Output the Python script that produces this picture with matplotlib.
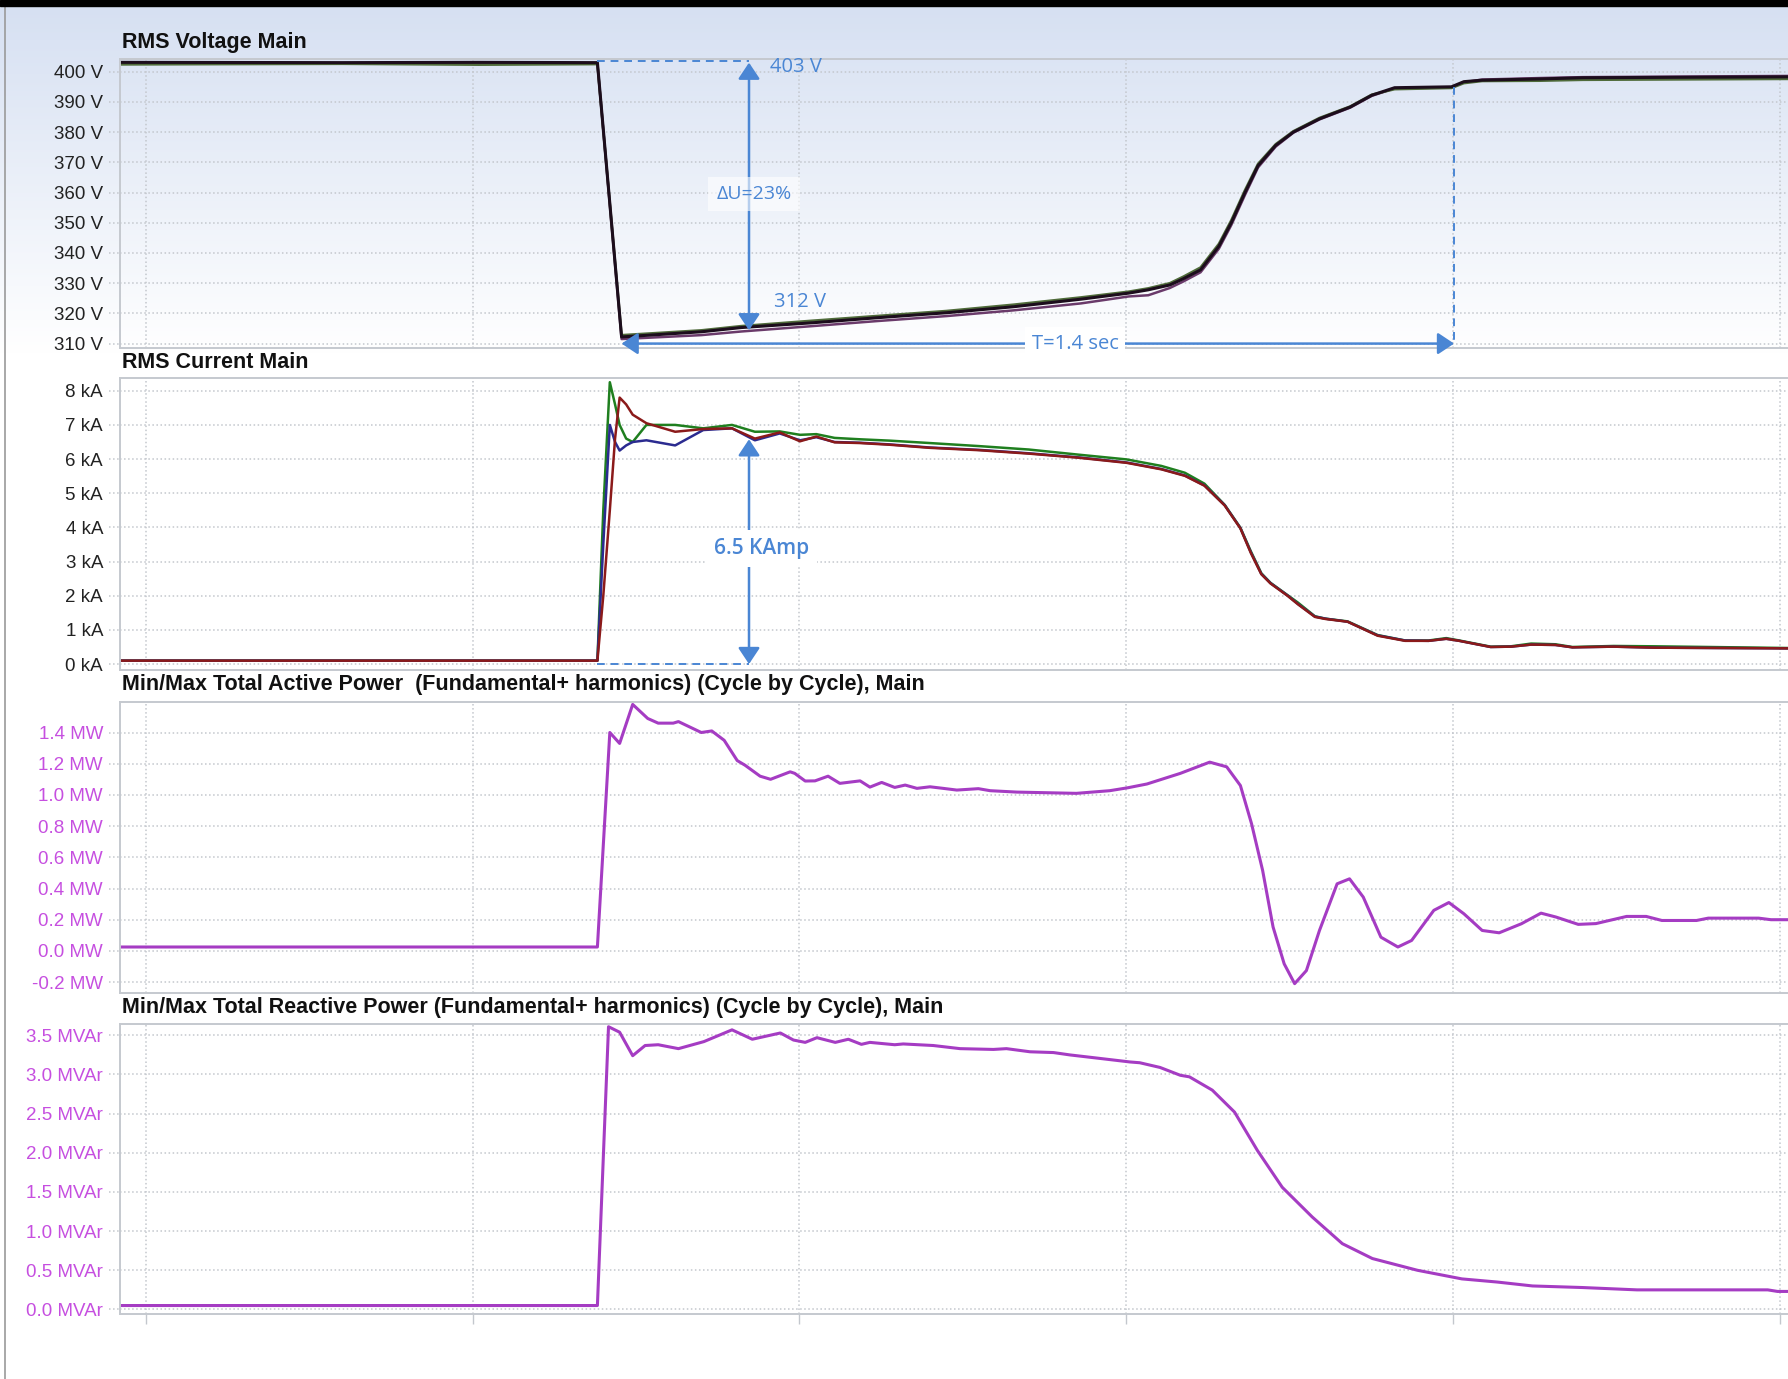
import numpy as np
import matplotlib.pyplot as plt
from matplotlib import font_manager
from matplotlib.colors import LinearSegmentedColormap
from matplotlib.patches import Rectangle
from matplotlib.lines import Line2D
from matplotlib.transforms import blended_transform_factory

# time in seconds, gridlines every 0.5 s
# --- RMS voltage, three phases (V)
t_volt = [-0.037, 0.30, 0.51, 0.691, 0.728, 0.85, 0.911, 1.021, 1.122, 1.225, 1.328,
          1.431, 1.504, 1.534, 1.567, 1.588, 1.614, 1.642, 1.661, 1.682, 1.702, 1.729,
          1.756, 1.796, 1.843, 1.876, 1.911, 1.998, 2.017, 2.045, 2.133, 2.199, 2.513]
volt_a = [403.1, 403.0, 403.1, 403.0, 312.2, 313.9, 315.3, 316.9, 318.6, 320.2, 322.2,
          324.7, 326.7, 327.8, 329.4, 331.5, 334.4, 342.2, 350.0, 360.0, 368.9, 375.6,
          380.0, 384.4, 388.3, 392.2, 394.7, 395.0, 396.7, 397.2, 397.6, 398.0, 398.3]
volt_b = [402.4, 402.6, 402.3, 402.5, 312.8, 314.4, 315.8, 317.6, 319.2, 320.8, 322.9,
          325.3, 327.2, 328.3, 330.0, 332.2, 335.2, 343.0, 350.8, 360.8, 369.5, 376.0,
          380.3, 384.7, 388.5, 392.4, 394.2, 394.6, 396.2, 396.9, 397.0, 397.3, 397.6]
volt_c = [403.0, 402.8, 402.9, 402.8, 311.5, 312.8, 314.0, 315.8, 317.5, 319.1, 321.0,
          323.3, 325.6, 326.0, 328.4, 330.6, 333.6, 341.4, 349.2, 359.2, 368.3, 375.2,
          379.8, 384.2, 388.1, 392.0, 394.5, 394.8, 396.5, 397.4, 397.9, 398.2, 398.6]

# --- RMS current, three phases (kA)
t_curr = [-0.037, 0.691, 0.700, 0.710, 0.718, 0.725, 0.735, 0.745, 0.766, 0.810,
          0.853, 0.897, 0.932, 0.970, 1.001, 1.026, 1.054, 1.092, 1.138, 1.199,
          1.275, 1.351, 1.427, 1.501, 1.554, 1.590, 1.620, 1.651, 1.675, 1.691,
          1.707, 1.721, 1.747, 1.763, 1.789, 1.805, 1.839, 1.885, 1.927, 1.963,
          1.990, 2.010, 2.058, 2.089, 2.120, 2.157, 2.183, 2.246, 2.309, 2.513]
curr_green = [0.1, 0.1, 4.5, 8.25, 7.6, 7.0, 6.6, 6.5, 7.0, 7.0,
              6.9, 7.0, 6.8, 6.81, 6.71, 6.73, 6.62, 6.58, 6.54, 6.47,
              6.38, 6.28, 6.13, 5.99, 5.80, 5.60, 5.28, 4.66, 3.99, 3.30,
              2.66, 2.38, 2.02, 1.80, 1.40, 1.33, 1.25, 0.85, 0.69, 0.69,
              0.76, 0.69, 0.51, 0.52, 0.60, 0.58, 0.50, 0.53, 0.52, 0.47]
curr_red = [0.1, 0.1, 2.0, 4.5, 6.6, 7.8, 7.6, 7.3, 7.05, 6.80,
            6.88, 6.9, 6.6, 6.78, 6.52, 6.66, 6.49, 6.47, 6.42, 6.33,
            6.26, 6.16, 6.04, 5.89, 5.70, 5.51, 5.22, 4.64, 3.97, 3.25,
            2.63, 2.36, 2.0, 1.75, 1.38, 1.32, 1.24, 0.83, 0.68, 0.68,
            0.74, 0.68, 0.50, 0.51, 0.57, 0.56, 0.49, 0.51, 0.48, 0.46]
curr_blue = [0.1, 0.1, 3.5, 7.0, 6.5, 6.25, 6.4, 6.5, 6.55, 6.4,
             6.85, 6.9, 6.55, 6.75, 6.55, 6.64, 6.5, 6.48, 6.43, 6.34,
             6.27, 6.17, 6.05, 5.90, 5.71, 5.52, 5.23, 4.65, 3.98, 3.27,
             2.64, 2.37, 2.01, 1.76, 1.39, 1.33, 1.24, 0.84, 0.69, 0.68,
             0.74, 0.68, 0.50, 0.51, 0.57, 0.56, 0.49, 0.51, 0.48, 0.46]

# --- total active power (MW)
t_p = [-0.037, 0.691, 0.710, 0.725, 0.745, 0.768, 0.784, 0.807, 0.815, 0.850,
       0.866, 0.885, 0.905, 0.917, 0.940, 0.956, 0.986, 0.993, 1.009, 1.024,
       1.044, 1.062, 1.093, 1.108, 1.126, 1.146, 1.162, 1.180, 1.200, 1.220,
       1.241, 1.274, 1.292, 1.333, 1.424, 1.475, 1.503, 1.532, 1.583, 1.628,
       1.654, 1.675, 1.692, 1.709, 1.725, 1.742, 1.758, 1.776, 1.796, 1.823,
       1.842, 1.863, 1.890, 1.916, 1.937, 1.971, 1.994, 2.017, 2.045, 2.071,
       2.105, 2.135, 2.158, 2.192, 2.219, 2.266, 2.296, 2.320, 2.373, 2.391,
       2.468, 2.487, 2.513]
p_mw = [0.025, 0.025, 1.40, 1.33, 1.58, 1.49, 1.46, 1.46, 1.47, 1.40,
        1.41, 1.35, 1.22, 1.19, 1.12, 1.10, 1.148, 1.138, 1.089, 1.09,
        1.12, 1.074, 1.09, 1.05, 1.08, 1.048, 1.063, 1.042, 1.052, 1.042,
        1.031, 1.04, 1.027, 1.018, 1.01, 1.027, 1.046, 1.07, 1.138, 1.21,
        1.18, 1.06, 0.816, 0.516, 0.153, -0.083, -0.21, -0.126, 0.131, 0.43,
        0.462, 0.345, 0.088, 0.025, 0.067, 0.26, 0.31, 0.238, 0.131, 0.116,
        0.174, 0.242, 0.217, 0.17, 0.175, 0.221, 0.221, 0.195, 0.195, 0.21,
        0.21, 0.2, 0.2]

# --- total reactive power (MVAr)
t_q = [-0.037, 0.691, 0.708, 0.725, 0.745, 0.764, 0.784, 0.815, 0.854, 0.897,
       0.928, 0.971, 0.991, 1.009, 1.027, 1.055, 1.075, 1.095, 1.108, 1.146,
       1.159, 1.205, 1.246, 1.297, 1.317, 1.353, 1.389, 1.414, 1.450, 1.506,
       1.521, 1.552, 1.583, 1.597, 1.632, 1.666, 1.701, 1.739, 1.785, 1.831,
       1.877, 1.946, 2.014, 2.068, 2.122, 2.198, 2.282, 2.482, 2.497, 2.513]
q_mvar = [0.05, 0.05, 3.61, 3.54, 3.24, 3.37, 3.38, 3.33, 3.42, 3.57,
          3.45, 3.53, 3.44, 3.41, 3.47, 3.41, 3.45, 3.385, 3.41, 3.38,
          3.39, 3.37, 3.33, 3.32, 3.33, 3.29, 3.28, 3.25, 3.215, 3.16,
          3.15, 3.09, 2.99, 2.97, 2.80, 2.52, 2.03, 1.56, 1.18, 0.84,
          0.65, 0.50, 0.39, 0.35, 0.30, 0.28, 0.25, 0.25, 0.23, 0.23]

titles = ["RMS Voltage Main",
          "RMS Current Main",
          "Min/Max Total Active Power  (Fundamental+ harmonics) (Cycle by Cycle), Main",
          "Min/Max Total Reactive Power (Fundamental+ harmonics) (Cycle by Cycle), Main"]

# fonts (narrow font for the tick labels when it is there)
names = {f.name for f in font_manager.fontManager.ttflist}
if 'Liberation Sans Narrow' in names:
    tick_font, tick_size = 'Liberation Sans Narrow', 15
else:
    tick_font, tick_size = 'Liberation Sans', 13.5
note_font = 'Open Sans' if 'Open Sans' in names else 'DejaVu Sans'

BLUE = '#4a86d4'
GRID = '#c3c7cd'
SPINE = '#c5c9cf'
PURPLE = '#a53cc3'
VIOLET_TXT = '#c64fe0'

W, H = 1788, 1379
fig = plt.figure(figsize=(W / 100, H / 100), dpi=100)
fig.patch.set_facecolor('white')

# bluish gradient behind the top panel
bg = fig.add_axes([0, 1 - 354 / H, 1, 348 / H], zorder=-5)
cmap = LinearSegmentedColormap.from_list('bg', ['#d6e0f2', '#ffffff'])
bg.imshow(np.linspace(0, 1, 256).reshape(-1, 1), aspect='auto', cmap=cmap,
          extent=[0, 1, 0, 1], origin='upper')
bg.axis('off')

# window frame bits
fig.patches.append(Rectangle((0, 1 - 6 / H), 1, 6 / H, transform=fig.transFigure,
                             color='black', zorder=10))
fig.add_artist(Line2D([5 / W, 5 / W], [0, 1 - 6 / H], color='#9a9a9a', lw=1.2))

left = 105 / 1568
boxes = [(305.2, 52.0), (587.6, 331.8), (870.6, 615.4), (1151.8, 897.4)]  # shown px
title_y = [37, 318, 600, 883]

axes = []
for i, (b, t) in enumerate(boxes):
    ax = fig.add_axes([left, 1 - b / 1209, 1 - left, (b - t) / 1209])
    axes.append(ax)
    fig.text(107 / 1568, 1 - title_y[i] / 1209, titles[i], fontsize=15.5,
             fontweight='bold', family='Liberation Sans', color='#111111',
             va='center', ha='left')

ylims = [(308.5, 404.1), (-0.18, 8.36), (-0.27, 1.596), (-0.055, 3.65)]
yticks = [np.arange(310, 401, 10), np.arange(0, 9, 1),
          np.arange(-0.2, 1.41, 0.2), np.arange(0, 3.51, 0.5)]
fmts = [lambda v: f"{v:.0f} V", lambda v: f"{v:.0f} kA",
        lambda v: f"{v:.1f} MW", lambda v: f"{v:.1f} MVAr"]
label_cols = ['#222222', '#222222', VIOLET_TXT, VIOLET_TXT]

for i, ax in enumerate(axes):
    ax.set_xlim(-0.040, 2.513)
    ax.set_ylim(*ylims[i])
    ax.set_xticks(np.arange(0, 2.51, 0.5))
    ax.set_yticks(yticks[i])
    ax.set_yticklabels([fmts[i](v).replace('-0.0', '0.0') for v in yticks[i]],
                       family=tick_font, fontsize=tick_size, color=label_cols[i])
    ax.set_xticklabels([])
    ax.tick_params(axis='y', length=0, pad=12)
    if i == 3:
        ax.tick_params(axis='x', length=7, width=1, color=GRID, direction='out')
    else:
        ax.tick_params(axis='x', length=0)
    ax.grid(True, color=GRID, ls=':', lw=1.1)
    ax.set_axisbelow(True)
    for s in ['top', 'bottom', 'left']:
        ax.spines[s].set_color(SPINE)
        ax.spines[s].set_linewidth(1.4)
    ax.spines['right'].set_visible(False)
    # short dotted stubs between the labels and the frame
    tr = blended_transform_factory(ax.transAxes, ax.transData)
    for v in yticks[i]:
        ax.plot([-0.0066, 0], [v, v], transform=tr, ls=':', color=GRID, lw=1.1,
                clip_on=False)
    if i > 0:
        ax.set_facecolor('white')
    else:
        ax.patch.set_alpha(0)

ax1, ax2, ax3, ax4 = axes

# voltage
ax1.plot(t_volt, volt_c, color='#6a3a6a', lw=1.8)
ax1.plot(t_volt, volt_b, color='#4f6b3a', lw=1.8)
ax1.plot(t_volt, volt_a, color='#1c0d1c', lw=2.2)

# current
ax2.plot(t_curr, curr_green, color='#1f7f1f', lw=1.8)
ax2.plot(t_curr, curr_blue, color='#2b2b90', lw=1.8)
ax2.plot(t_curr, curr_red, color='#8b1a1a', lw=1.8)

# powers
ax3.plot(t_p, p_mw, color=PURPLE, lw=2.2)
ax4.plot(t_q, q_mvar, color=PURPLE, lw=2.2)

# --- annotations
arrow = dict(arrowstyle='<|-|>,head_length=0.45,head_width=0.3', color=BLUE, lw=1.8,
             mutation_scale=22, shrinkA=0, shrinkB=0)
t_mark = 0.923
ax1.plot([0.691, t_mark], [403.4, 403.4], color=BLUE, lw=1.4, ls=(0, (4, 3)))
ax1.annotate('', xy=(t_mark, 403.0), xytext=(t_mark, 314.4), arrowprops=arrow)
ax1.text(0.955, 401.7, '403 V', color=BLUE, fontsize=14.5, family=note_font,
         ha='left', va='center')
ax1.text(0.962, 323.8, '312 V', color=BLUE, fontsize=14.5, family=note_font,
         ha='left', va='center')
ax1.text(0.931, 359.5, 'ΔU=23%', color=BLUE, fontsize=14, family=note_font,
         ha='center', va='center', zorder=5,
         bbox=dict(facecolor='white', alpha=0.6, edgecolor='none', pad=6))
ax1.annotate('', xy=(0.728, 310.0), xytext=(2.002, 310.0), arrowprops=arrow)
ax1.plot([2.002, 2.002], [395.0, 310.0], color=BLUE, lw=1.4, ls=(0, (4, 3)))
ax1.text(1.422, 310.0, 'T=1.4 sec', color=BLUE, fontsize=14.5, family=note_font,
         ha='center', va='center', zorder=5,
         bbox=dict(facecolor='white', edgecolor='none', pad=5))

ax2.plot([0.691, t_mark], [0.0, 0.0], color=BLUE, lw=1.4, ls=(0, (4, 3)))
ax2.annotate('', xy=(t_mark, 6.58), xytext=(t_mark, 0.0), arrowprops=arrow)
ax2.text(0.942, 3.38, '6.5 KAmp', color=BLUE, fontsize=15, family=note_font,
         fontweight='semibold', ha='center', va='center', zorder=5,
         bbox=dict(facecolor='white', edgecolor='none', pad=6))

plt.savefig('out.png', dpi=100)
